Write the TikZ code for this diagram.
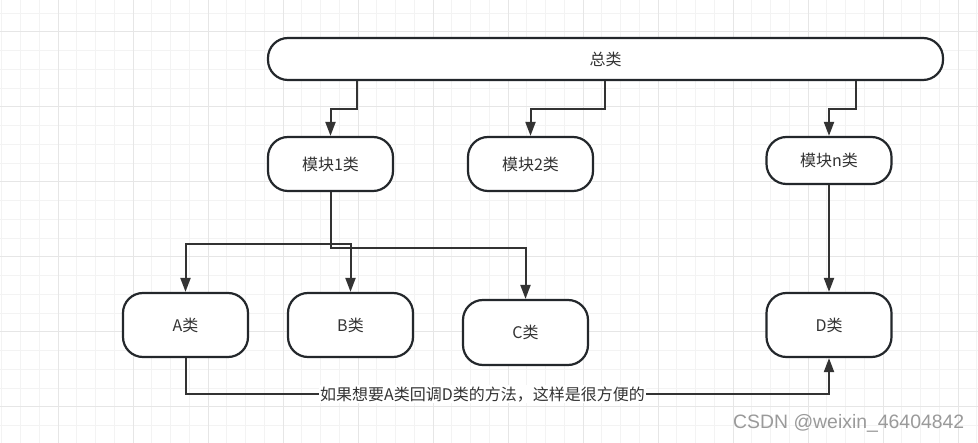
\documentclass[tikz,border=0pt]{standalone}
\usepackage{fontspec}
\setmainfont{Noto Sans CJK SC}
\newfontfamily\wmfont{Liberation Sans}
\usetikzlibrary{arrows.meta,calc}
\definecolor{gridminor}{HTML}{F3F3F3}
\definecolor{gridmajor}{HTML}{E6E6E6}
\definecolor{edge}{HTML}{333333}
\definecolor{boxline}{HTML}{23272B}
\definecolor{txt}{HTML}{333333}
\definecolor{wm}{HTML}{9A9A9A}
\begin{document}
\begin{tikzpicture}[x=1pt,y=-1pt,
  box/.style={draw=boxline,line width=2.2pt,fill=white,rounded corners=20pt,
    minimum width=125pt,inner sep=0pt,text=txt,font=\fontsize{16}{19}\selectfont},
  arr/.style={draw=edge,line width=2pt,-{Triangle[length=14pt,width=10pt]}},
  lbl/.style={fill=white,inner sep=1pt,text=txt,font=\fontsize{16}{19}\selectfont}]
\useasboundingbox (0,0) rectangle (978,443);
\fill[white] (0,0) rectangle (978,443);
% grid
\foreach \i in {-3,...,49} {
  \pgfmathsetmacro\xx{58+18.75*\i}
  \draw[gridminor,line width=1pt] (\xx,0) -- (\xx,443);
}
\foreach \i in {-1,...,22} {
  \pgfmathsetmacro\yy{32+18.75*\i}
  \draw[gridminor,line width=1pt] (0,\yy) -- (978,\yy);
}
\foreach \i in {-1,...,12} {
  \pgfmathsetmacro\xx{58+75*\i}
  \draw[gridmajor,line width=1pt] (\xx,0) -- (\xx,443);
}
\foreach \i in {0,...,5} {
  \pgfmathsetmacro\yy{32+75*\i}
  \draw[gridmajor,line width=1pt] (0,\yy) -- (978,\yy);
}
% nodes
\node[box,minimum width=675pt,minimum height=42pt,rounded corners=20pt] (zl) at (605.5,59) {总类};
\node[box,minimum height=54pt] (m1) at (330.5,164) {模块1类};
\node[box,minimum height=54pt] (m2) at (530.5,164) {模块2类};
\node[box,minimum height=47pt] (mn) at (829,160.5) {模块n类};
\node[box,minimum height=64pt] (a) at (185.5,325) {A类};
\node[box,minimum height=64pt] (b) at (350.5,325) {B类};
\node[box,minimum height=65pt] (c) at (525.5,332.5) {C类};
\node[box,minimum height=64pt] (d) at (829,325) {D类};
% connectors
\draw[arr] ([xshift=-248.5pt]zl.south) -- ++(0,28) -| (m1.north);
\draw[arr] ([xshift=-0.5pt]zl.south) -- ++(0,28) -| (m2.north);
\draw[arr] ([xshift=250.5pt]zl.south) -- ++(0,28) -| (mn.north);
\draw[arr] (m1.south) -- ++(0,52) -| (a.north);
\draw[arr] (m1.south) -- ++(0,52) -| (b.north);
\draw[arr] (m1.south) -- ++(0,56) -| (c.north);
\draw[arr] (mn.south) -- (d.north);
\draw[arr] (a.south) -- ++(0,36) -| (d.south);
\node[lbl] (lab) at ($(a.south)+(297,36)$) {如果想要A类回调D类的方法，这样是很方便的};
% watermark
\node[text=wm,font=\wmfont\fontsize{19.4}{22}\selectfont,anchor=west,inner sep=0pt] (wmk) at (733,423) {CSDN @weixin\_46404842};
\end{tikzpicture}
\end{document}
